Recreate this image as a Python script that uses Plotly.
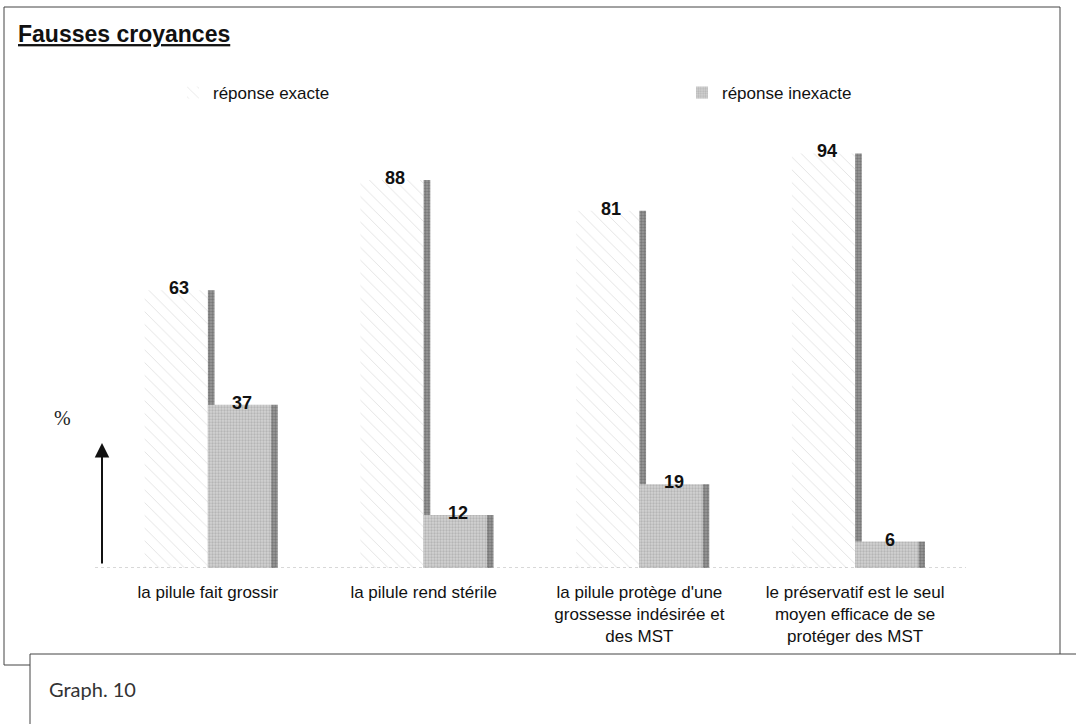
import plotly.graph_objects as go

# ---- data ----
categories = [
    "la pilule fait grossir",
    "la pilule rend stérile",
    "la pilule protège d'une<br>grossesse indésirée et<br>des MST",
    "le préservatif est le seul<br>moyen efficace de se<br>protéger des MST",
]
series_names = ["réponse exacte", "réponse inexacte"]
exacte = [63, 88, 81, 94]
inexacte = [37, 12, 19, 6]
title_text = "Fausses croyances"
caption_text = "Graph. 10"
axis_symbol = "%"

# ---- geometry helpers (pixel -> paper) ----
W, H = 1076, 724
L, R, T, B = 100, 113, 127, 156
PW, PH = W - L - R, H - T - B
CAT_PX = PW / len(categories)


def px(x):
    return (x - L) / PW


def py(y):
    return (H - B - y) / PH


BW = 0.293   # bar front width (category units)
SW = 0.031   # 3D side strip width
FONT = "Liberation Sans, Arial, sans-serif"

side_marker = dict(color="#8f8f8f", line=dict(width=0),
                   pattern=dict(shape=".", fgcolor="#555555", bgcolor="#9a9a9a",
                                size=3, solidity=0.5))

fig = go.Figure()

# series 1 front face (light hatched)
fig.add_trace(go.Bar(
    x=categories, y=exacte, name=series_names[0],
    width=BW, offset=-BW, legend="legend",
    marker=dict(color="white", line=dict(width=0),
                pattern=dict(shape="\\", fgcolor="#c4c4c4", bgcolor="white",
                             size=9, solidity=0.1)),
))
# series 1 side strip
fig.add_trace(go.Bar(
    x=categories, y=exacte, width=SW, offset=0,
    marker=side_marker, showlegend=False, hoverinfo="skip",
))
# series 2 front face (stippled grey)
fig.add_trace(go.Bar(
    x=categories, y=inexacte, name=series_names[1],
    width=BW, offset=0, legend="legend2",
    marker=dict(color="#cbcbcb", line=dict(width=0),
                pattern=dict(shape=".", fgcolor="#989898", bgcolor="#d2d2d2",
                             size=3, solidity=0.45)),
))
# series 2 side strip
fig.add_trace(go.Bar(
    x=categories, y=inexacte, width=SW, offset=BW,
    marker=side_marker, showlegend=False, hoverinfo="skip",
))

annotations = []
# value labels
half = BW / 2 * CAT_PX
for cat, v1, v2 in zip(categories, exacte, inexacte):
    annotations.append(dict(x=cat, y=v1, xref="x", yref="y", text=f"<b>{v1}</b>",
                            showarrow=False, xshift=-half + 3, xanchor="center",
                            yshift=2, yanchor="middle",
                            font=dict(family=FONT, size=18, color="#111")))
    annotations.append(dict(x=cat, y=v2, xref="x", yref="y", text=f"<b>{v2}</b>",
                            showarrow=False, xshift=half + 3, xanchor="center",
                            yshift=2, yanchor="middle",
                            font=dict(family=FONT, size=18, color="#111")))

# % symbol and arrow
annotations.append(dict(x=px(62), y=py(418), xref="paper", yref="paper",
                        text=axis_symbol, showarrow=False, xanchor="center",
                        yanchor="middle",
                        font=dict(family="Liberation Serif, serif", size=20, color="#222")))
annotations.append(dict(x=px(102), y=py(443), xref="paper", yref="paper",
                        text="", showarrow=True, ax=0, ay=122,
                        arrowhead=2, arrowsize=1.45, arrowwidth=2, arrowcolor="#111"))
# caption
annotations.append(dict(x=px(47), y=py(689), xref="paper", yref="paper",
                        text=caption_text, showarrow=False, xanchor="left",
                        yanchor="middle",
                        font=dict(family="Lato, Open Sans, sans-serif", size=20, color="#333")))

shapes = [
    # outer chart frame
    dict(type="rect", xref="paper", yref="paper", x0=px(4), x1=px(1060),
         y0=py(665), y1=py(7), line=dict(color="#444", width=1), layer="below"),
    # caption box (covers bottom-left of outer frame)
    dict(type="rect", xref="paper", yref="paper", x0=px(30), x1=px(1110),
         y0=py(780), y1=py(654), line=dict(color="#444", width=1),
         fillcolor="white", layer="above"),
    # dotted baseline
    dict(type="line", xref="paper", yref="y", x0=px(95), x1=px(966), y0=0, y1=0,
         line=dict(color="#b0b0b0", width=1, dash="dot")),
]

legend_common = dict(orientation="h", xanchor="left", yanchor="middle",
                     font=dict(family=FONT, size=17, color="#111"),
                     bgcolor="rgba(0,0,0,0)")

fig.update_layout(
    width=W, height=H,
    margin=dict(l=L, r=R, t=T, b=B),
    paper_bgcolor="white", plot_bgcolor="white",
    barmode="overlay",
    title=dict(text=f"<b><u>{title_text}</u></b>", x=18 / W, xanchor="left",
               y=1 - 34 / H, yanchor="middle",
               font=dict(family=FONT, size=23, color="#111")),
    font=dict(family=FONT, size=17, color="#111"),
    xaxis=dict(showgrid=False, zeroline=False, showline=False, ticks="",
               tickfont=dict(family=FONT, size=17, color="#111"),
               ticklabelstandoff=12),
    yaxis=dict(range=[0, 100], visible=False),
    legend=dict(x=px(173), y=py(93), **legend_common),
    legend2=dict(x=px(682), y=py(93), **legend_common),
    annotations=annotations,
    shapes=shapes,
)

fig.write_html("out.html", config={"displayModeBar": False},
               post_script="document.body.style.margin='0';")
